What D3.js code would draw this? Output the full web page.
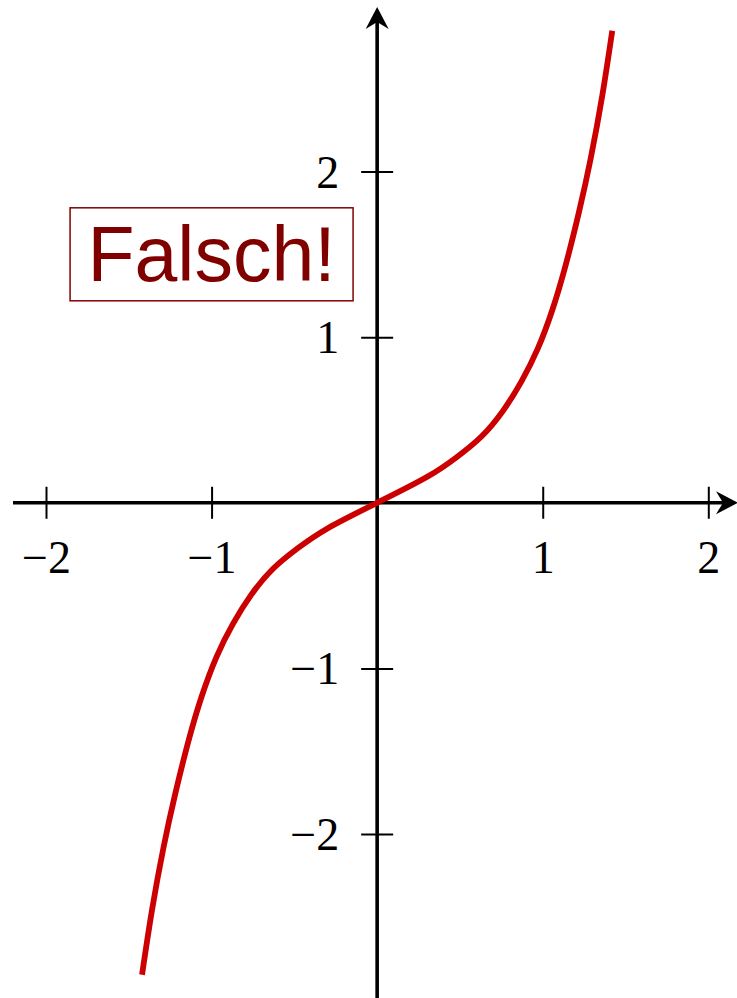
<!DOCTYPE html>
<html>
<head>
<meta charset="utf-8">
<script src="https://cdn.jsdelivr.net/npm/d3@7"></script>
<style>
  body { margin: 0; background: #fff; }
  svg { display: block; }
</style>
</head>
<body>
<svg id="chart"></svg>
<script>
// tick values on both axes (0 is left out, it sits on the origin)
const xTicks = [-2, -1, 1, 2];
const yTicks = [-2, -1, 1, 2];

// points
const curveX = [-1.42, -1.36, -1.29, -1.22, -1.14, -1.06, -0.97, -0.87, -0.76, -0.63, -0.48, -0.3, 0,
                0.3, 0.48, 0.63, 0.76, 0.87, 0.97, 1.06, 1.14, 1.22, 1.29, 1.36, 1.42];
const curveY = [-2.85, -2.46, -2.08, -1.76, -1.44, -1.17, -0.93, -0.73, -0.555, -0.40, -0.275, -0.155, 0,
                0.155, 0.275, 0.40, 0.555, 0.73, 0.93, 1.17, 1.44, 1.76, 2.08, 2.46, 2.85];

const noteText = 'Falsch!';
const notePos = [-1, 1.5];

const width = 737, height = 998;
const tickLen = 16;

const svg = d3.select('#chart')
    .attr('width', width)
    .attr('height', height);

const x = d3.scaleLinear().domain([-2, 2]).range([46, 708.3]);
const y = d3.scaleLinear().domain([-2, 2]).range([834, 171.5]);

const x0 = x(0), y0 = y(0);

// x axis ticks + labels
const xAxis = d3.axisBottom(x)
    .tickValues(xTicks)
    .tickSize(0)
    .tickFormat(d => d < 0 ? '\u2212' + Math.abs(d) : d);

const gx = svg.append('g')
    .attr('class', 'x-axis')
    .attr('transform', `translate(0, ${y0})`)
    .call(xAxis);
gx.select('.domain').remove();
gx.selectAll('.tick line')
    .attr('y1', -tickLen)
    .attr('y2', tickLen)
    .attr('stroke', '#000')
    .attr('stroke-width', 2);
gx.selectAll('.tick text')
    .attr('y', 70)
    .attr('dy', null)
    .attr('fill', '#000')
    .style('font-family', '"Liberation Serif", serif')
    .style('font-size', '46px');

// y axis ticks + labels
const yAxis = d3.axisLeft(y)
    .tickValues(yTicks)
    .tickSize(0)
    .tickFormat(d => d < 0 ? '\u2212' + Math.abs(d) : d);

const gy = svg.append('g')
    .attr('class', 'y-axis')
    .attr('transform', `translate(${x0}, 0)`)
    .call(yAxis);
gy.select('.domain').remove();
gy.selectAll('.tick line')
    .attr('x1', -tickLen)
    .attr('x2', tickLen)
    .attr('stroke', '#000')
    .attr('stroke-width', 2);
gy.selectAll('.tick text')
    .attr('x', -38)
    .attr('dy', null)
    .attr('y', 15.5)
    .attr('fill', '#000')
    .style('font-family', '"Liberation Serif", serif')
    .style('font-size', '46px');

// axis lines with stealth arrows
const arrow = 'M0,0 L-22,-11.5 L-15,0 L-22,11.5 Z';

svg.append('line')
    .attr('x1', 13).attr('x2', 724)
    .attr('y1', y0).attr('y2', y0)
    .attr('stroke', '#000')
    .attr('stroke-width', 3.6);
svg.append('path')
    .attr('d', arrow)
    .attr('fill', '#000')
    .attr('transform', `translate(738, ${y0})`);

svg.append('line')
    .attr('x1', x0).attr('x2', x0)
    .attr('y1', height).attr('y2', 22)
    .attr('stroke', '#000')
    .attr('stroke-width', 3.6);
svg.append('path')
    .attr('d', arrow)
    .attr('fill', '#000')
    .attr('transform', `translate(${x0}, 7) rotate(-90)`);

// the curve
const pts = curveX.map((d, i) => [d, curveY[i]]);
svg.append('path')
    .datum(pts)
    .attr('fill', 'none')
    .attr('stroke', '#cc0000')
    .attr('stroke-width', 5.8)
    .attr('d', d3.line()
        .x(d => x(d[0]))
        .y(d => y(d[1]))
        .curve(d3.curveNatural));

// boxed note
const note = svg.append('g')
    .attr('transform', `translate(${x(notePos[0])}, ${y(notePos[1])})`);
note.append('rect')
    .attr('x', -141.5).attr('y', -46.5)
    .attr('width', 283).attr('height', 93)
    .attr('fill', '#fff')
    .attr('stroke', '#800000')
    .attr('stroke-width', 1.5);
note.append('text')
    .attr('text-anchor', 'middle')
    .attr('y', 27)
    .attr('fill', '#800000')
    .style('font-family', '"Liberation Sans", Arial, sans-serif')
    .style('font-size', '77px')
    .text(noteText);
</script>
</body>
</html>
